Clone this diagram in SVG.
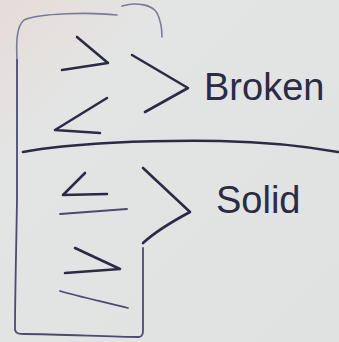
<svg xmlns="http://www.w3.org/2000/svg" width="339" height="342" viewBox="0 0 339 342">
<defs>
<style>
.ink{fill:none;stroke:#2b2b45;stroke-width:2.6;stroke-linecap:round;stroke-linejoin:round}
.thin{stroke-width:1.8;stroke:#4a4a72}
.faint{stroke-width:1.6;stroke:#7a7a98}
.txt{font-family:"Liberation Sans","DejaVu Sans",sans-serif;fill:#2b2b45}
</style>
<linearGradient id="bg" x1="0" y1="0" x2="1" y2="1">
<stop offset="0" stop-color="#e6dcd8"/>
<stop offset="0.25" stop-color="#e3e5e4"/>
<stop offset="1" stop-color="#e0e2e1"/>
</linearGradient>
</defs>
<rect width="339" height="342" fill="url(#bg)"/>
<!-- box -->
<path class="ink faint" d="M17,60 C16,40 17,26 24,20 C40,13 90,12 117,15"/>
<path class="ink faint" d="M122,6 C135,2 152,4 157,13 C161,21 162,30 162,37"/>
<path class="ink thin" d="M17,60 L17,200 C16,260 15,300 15,330 C16,334 20,334 24,334 C60,334 110,337 139,337 C143,336 143,333 143,330 L143,248"/>
<!-- top symbols -->
<path class="ink" d="M77,37 L108,63 L62,70"/>
<path class="ink" d="M107,98 L55,130 L100,133"/>
<path class="ink" d="M132,55 L188,88 L145,112"/>
<text class="txt" x="204" y="100" font-size="38">Broken</text>
<!-- divider -->
<path class="ink" stroke-width="3" d="M23,152 C70,143 150,140 220,141 C270,142 310,147 338,152"/>
<!-- bottom symbols -->
<path class="ink" d="M85,173 L63,195 L107,194"/>
<path class="ink thin" d="M60,214 L127,209"/>
<path class="ink" d="M75,248 L120,269 L65,273"/>
<path class="ink thin" d="M60,291 C80,297 105,302 128,308"/>
<path class="ink" d="M143,168 L190,212 C175,220 155,232 143,243"/>
<text class="txt" x="216" y="213" font-size="38">Solid</text>
</svg>
